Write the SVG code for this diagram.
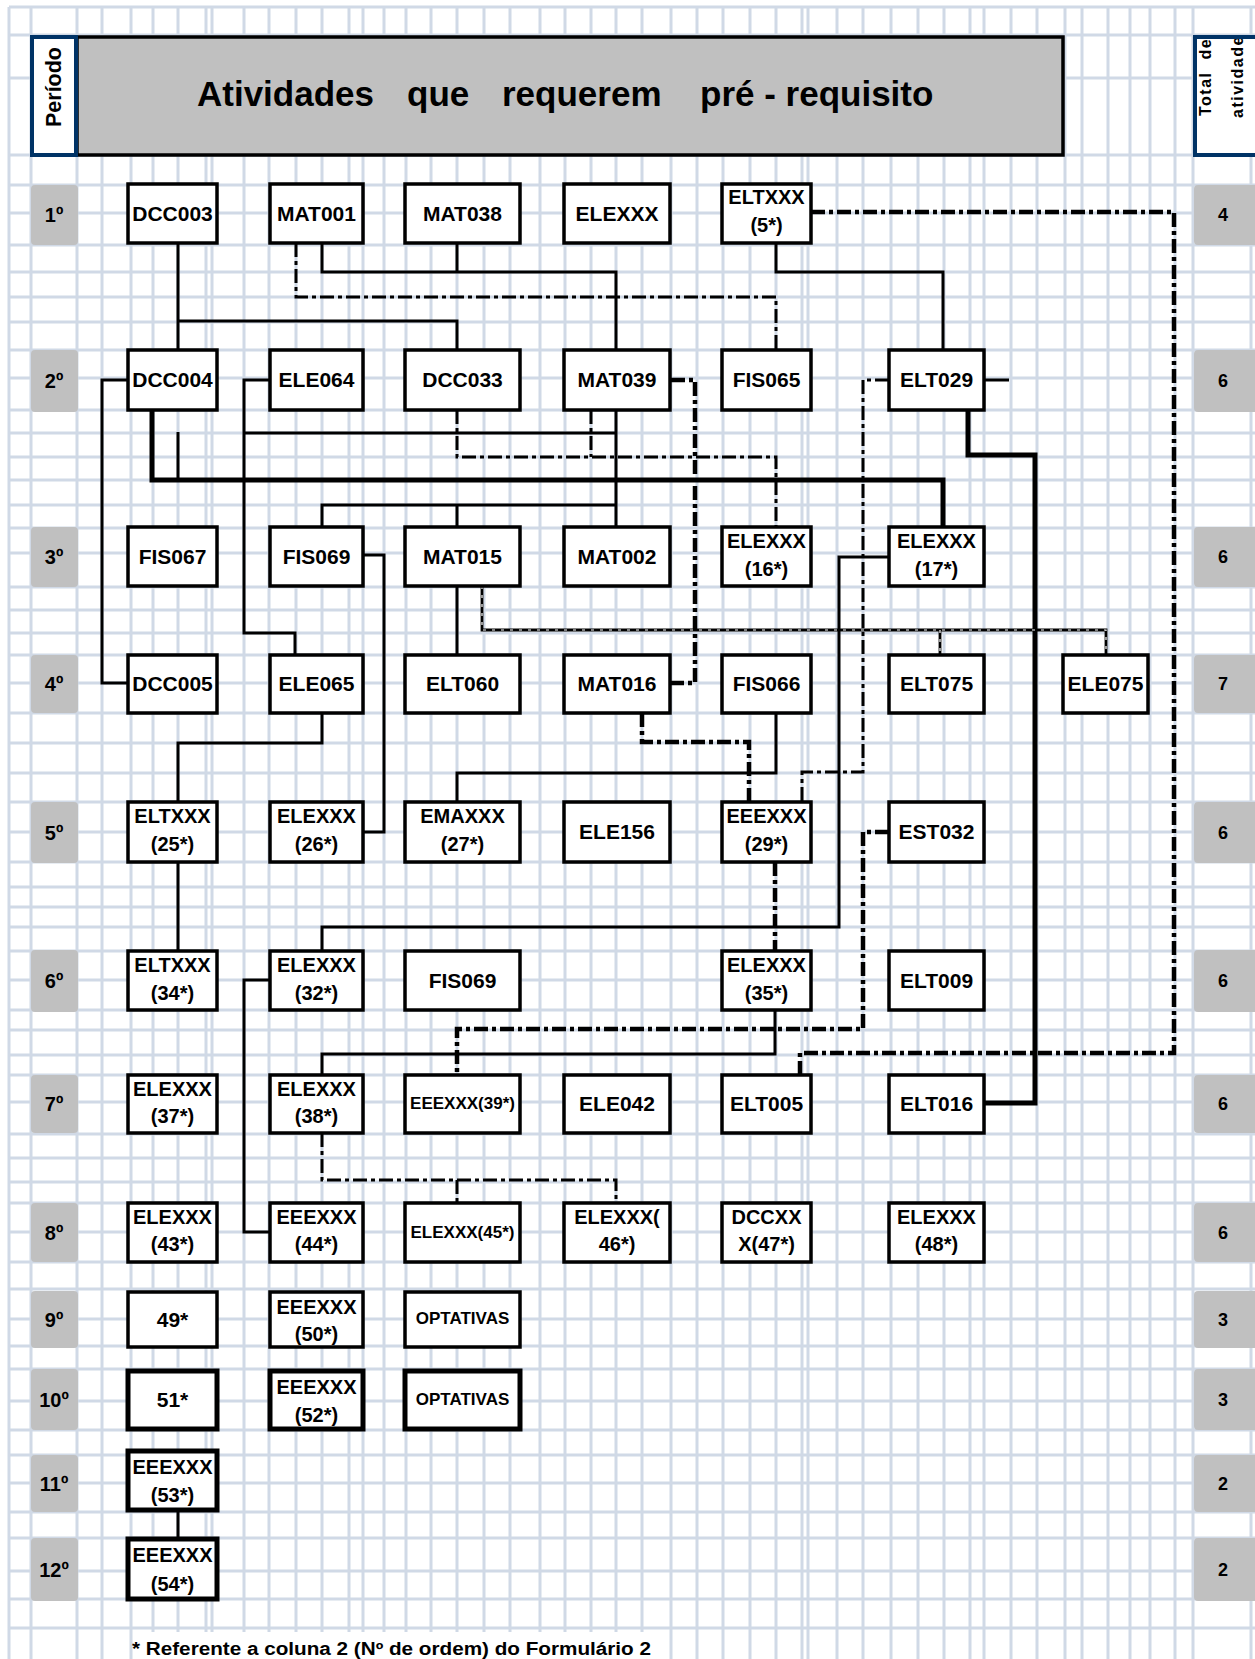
<svg xmlns="http://www.w3.org/2000/svg" width="1255" height="1659" viewBox="0 0 1255 1659">
<defs>
<style>
.g{stroke:#d0d9e6;stroke-width:3;fill:none}
.pb{fill:#c0c0c0}
.n rect{fill:#fff;stroke:#000;stroke-width:3.5}
.n.k rect{stroke-width:5}
text{font-family:"Liberation Sans",Arial,sans-serif;font-weight:bold;fill:#000}
.t{font-size:21px;text-anchor:middle}
.t2{font-size:20px;text-anchor:middle}
.ts{font-size:17px;text-anchor:middle}
.pl{font-size:20px;text-anchor:middle}
.tl{font-size:18px;text-anchor:middle}
.c path{fill:none;stroke:#000;stroke-linejoin:miter}
.c .s{stroke-width:3}
.c .st{stroke-width:5}
.c .d{stroke-width:3;stroke-dasharray:14 4 4 4}
.c .dt{stroke-width:4.5;stroke-dasharray:14 4 4 4}
.c .h{stroke-width:2.8}
.c .hw{stroke:#fff;stroke-width:1.2;stroke-dasharray:3 6}
</style>
<clipPath id="clipTot"><rect x="1196" y="39" width="60" height="115"/></clipPath>
</defs>
<rect width="1255" height="1659" fill="#fff"/>
<g id="grid" class="g">
<path d="M9,7V1659M31,7V1659M77,7V1659M102,7V1659M131,7V1659M153,7V1659M178,7V1659M206,7V1659M212,7V1659M244,7V1659M269,7V1659M296,7V1659M322,7V1659M349,7V1659M363,7V1659M384,7V1659M406,7V1659M431,7V1659M457,7V1659M484,7V1659M510,7V1659M540,7V1659M565,7V1659M591,7V1659M616,7V1659M642,7V1659M671,7V1659M697,7V1659M723,7V1659M750,7V1659M776,7V1659M802,7V1659M808,7V1659M837,7V1659M863,7V1659M891,7V1659M918,7V1659M944,7V1659M970,7V1659M984,7V1659M1011,7V1659M1037,7V1659M1065,7V1659M1082,7V1659M1108,7V1659M1130,7V1659M1150,7V1659M1175,7V1659M1193,7V1659M1251,7V1659"/>
<path d="M9,7H1255M9,35H1255M9,78H1255M9,155H1255M9,185H1255M9,213H1255M9,245H1255M9,272H1255M9,297H1255M9,322H1255M9,350H1255M9,378H1255M9,410H1255M9,433H1255M9,457H1255M9,480H1255M9,505H1255M9,528H1255M9,553H1255M9,587H1255M9,610H1255M9,633H1255M9,655H1255M9,683H1255M9,713H1255M9,743H1255M9,773H1255M9,802H1255M9,832H1255M9,862H1255M9,887H1255M9,907H1255M9,927H1255M9,951H1255M9,980H1255M9,1010H1255M9,1030H1255M9,1055H1255M9,1075H1255M9,1102H1255M9,1134H1255M9,1158H1255M9,1182H1255M9,1203H1255M9,1232H1255M9,1262H1255M9,1289H1255M9,1319H1255M9,1346H1255M9,1369H1255M9,1401H1255M9,1430H1255M9,1455H1255M9,1483H1255M9,1512H1255M9,1538H1255M9,1571H1255M9,1599H1255M9,1628H1255"/>
</g>

<g id="header">
<rect x="77" y="37" width="986" height="118" fill="#c0c0c0" stroke="#000" stroke-width="3.5"/>
<text font-size="35" y="106"><tspan x="197">Atividades</tspan><tspan x="407">que</tspan><tspan x="502">requerem</tspan><tspan x="700">pré - requisito</tspan></text>
<rect x="32" y="37" width="44" height="118" fill="#fff" stroke="#003366" stroke-width="4"/>
<text font-size="22" transform="translate(61,127) rotate(-90)" textLength="80" lengthAdjust="spacingAndGlyphs">Período</text>
<rect x="1195" y="37" width="70" height="118" fill="#fff" stroke="#003366" stroke-width="4"/>
<g clip-path="url(#clipTot)">
<text font-size="16" letter-spacing="1.5" style="white-space:pre" transform="translate(1211,116) rotate(-90)">Total  de</text>
<text font-size="16" letter-spacing="1.5" transform="translate(1243,118) rotate(-90)">atividades</text>
</g>
</g>

<g id="periods">
<rect class="pb" x="31" y="185" width="47" height="60" rx="4"/><text class="pl" x="54" y="222">1º</text>
<rect class="pb" x="31" y="350" width="47" height="62" rx="4"/><text class="pl" x="54" y="388">2º</text>
<rect class="pb" x="31" y="527" width="47" height="60" rx="4"/><text class="pl" x="54" y="564">3º</text>
<rect class="pb" x="31" y="655" width="47" height="58" rx="4"/><text class="pl" x="54" y="691">4º</text>
<rect class="pb" x="31" y="802" width="47" height="61" rx="4"/><text class="pl" x="54" y="840">5º</text>
<rect class="pb" x="31" y="950" width="47" height="62" rx="4"/><text class="pl" x="54" y="988">6º</text>
<rect class="pb" x="31" y="1075" width="47" height="58" rx="4"/><text class="pl" x="54" y="1111">7º</text>
<rect class="pb" x="31" y="1203" width="47" height="59" rx="4"/><text class="pl" x="54" y="1240">8º</text>
<rect class="pb" x="31" y="1291" width="47" height="57" rx="4"/><text class="pl" x="54" y="1327">9º</text>
<rect class="pb" x="31" y="1369" width="47" height="61" rx="4"/><text class="pl" x="54" y="1407">10º</text>
<rect class="pb" x="31" y="1455" width="47" height="57" rx="4"/><text class="pl" x="54" y="1491">11º</text>
<rect class="pb" x="31" y="1538" width="47" height="63" rx="4"/><text class="pl" x="54" y="1577">12º</text>
</g>

<g id="totals">
<rect class="pb" x="1194" y="185" width="70" height="60" rx="4"/><text class="tl" x="1223" y="221">4</text>
<rect class="pb" x="1194" y="350" width="70" height="62" rx="4"/><text class="tl" x="1223" y="387">6</text>
<rect class="pb" x="1194" y="527" width="70" height="60" rx="4"/><text class="tl" x="1223" y="563">6</text>
<rect class="pb" x="1194" y="655" width="70" height="58" rx="4"/><text class="tl" x="1223" y="690">7</text>
<rect class="pb" x="1194" y="802" width="70" height="61" rx="4"/><text class="tl" x="1223" y="839">6</text>
<rect class="pb" x="1194" y="950" width="70" height="62" rx="4"/><text class="tl" x="1223" y="987">6</text>
<rect class="pb" x="1194" y="1075" width="70" height="58" rx="4"/><text class="tl" x="1223" y="1110">6</text>
<rect class="pb" x="1194" y="1203" width="70" height="59" rx="4"/><text class="tl" x="1223" y="1239">6</text>
<rect class="pb" x="1194" y="1291" width="70" height="57" rx="4"/><text class="tl" x="1223" y="1326">3</text>
<rect class="pb" x="1194" y="1369" width="70" height="61" rx="4"/><text class="tl" x="1223" y="1406">3</text>
<rect class="pb" x="1194" y="1455" width="70" height="57" rx="4"/><text class="tl" x="1223" y="1490">2</text>
<rect class="pb" x="1194" y="1538" width="70" height="63" rx="4"/><text class="tl" x="1223" y="1576">2</text>
</g>

<g id="connectors" class="c">
<path class="s" d="M178,243V350M178,321H457V350"/>
<path class="s" d="M322,243V272H616V350M457,243V272"/>
<path class="s" d="M776,243V272H943V350"/>
<path class="s" d="M128,380H102V683H128"/>
<path class="s" d="M270,380H244V633H295V655"/>
<path class="s" d="M616,410V527M244,433H616M322,527V505H616M457,505V527"/>
<path class="s" d="M178,432V480"/>
<path class="s" d="M363,555H384V832H363"/>
<path class="s" d="M457,586V655"/>
<path class="s" d="M984,380H1009"/>
<path class="s" d="M889,557H839V927H322V951"/>
<path class="s" d="M776,713V773H457V802"/>
<path class="s" d="M322,713V743H178V802"/>
<path class="s" d="M178,862V951"/>
<path class="s" d="M270,980H244V1232H270"/>
<path class="s" d="M775,1010V1054H322V1075"/>
<path class="s" d="M178,1510V1539"/>
<path class="st" d="M152,410V480H943V527"/>
<path class="st" d="M968,410V455H1035V1103H984"/>
<path class="d" d="M296,243V297H776V350"/>
<path class="d" d="M457,410V457H776V527M591,410V457"/>
<path class="d" d="M889,380H863V772H802V802"/>
<path class="d" d="M322,1133V1180H616V1203M457,1180V1203"/>
<path class="dt" d="M671,380H695V683H671"/>
<path class="dt" d="M811,212H1174V1053H800V1075"/>
<path class="dt" d="M642,713V742H749V802"/>
<path class="dt" d="M775,862V951"/>
<path class="dt" d="M889,832H863V1029H457V1075"/>
<path class="h" d="M482,586V630H1106V655M940,630V655"/>
<path class="hw" d="M482,586V630H1106V655M940,630V655"/>
</g>

<g id="nodes">
<g id="n-DCC003" class="n"><rect x="128" y="184" width="89" height="59"/><text class="t" x="172.5" y="221">DCC003</text></g>
<g id="n-MAT001" class="n"><rect x="270" y="184" width="93" height="59"/><text class="t" x="316.5" y="221">MAT001</text></g>
<g id="n-MAT038" class="n"><rect x="405" y="184" width="115" height="59"/><text class="t" x="462.5" y="221">MAT038</text></g>
<g id="n-ELEXXX-1" class="n"><rect x="564" y="184" width="106" height="59"/><text class="t" x="617" y="221">ELEXXX</text></g>
<g id="n-ELTXXX-5" class="n"><rect x="722" y="184" width="89" height="59"/><text class="t2" x="766.5" y="204">ELTXXX</text><text class="t2" x="766.5" y="232">(5*)</text></g>

<g id="n-DCC004" class="n"><rect x="128" y="350" width="89" height="60"/><text class="t" x="172.5" y="387">DCC004</text></g>
<g id="n-ELE064" class="n"><rect x="270" y="350" width="93" height="60"/><text class="t" x="316.5" y="387">ELE064</text></g>
<g id="n-DCC033" class="n"><rect x="405" y="350" width="115" height="60"/><text class="t" x="462.5" y="387">DCC033</text></g>
<g id="n-MAT039" class="n"><rect x="564" y="350" width="106" height="60"/><text class="t" x="617" y="387">MAT039</text></g>
<g id="n-FIS065" class="n"><rect x="722" y="350" width="89" height="60"/><text class="t" x="766.5" y="387">FIS065</text></g>
<g id="n-ELT029" class="n"><rect x="889" y="350" width="95" height="60"/><text class="t" x="936.5" y="387">ELT029</text></g>

<g id="n-FIS067" class="n"><rect x="128" y="527" width="89" height="59"/><text class="t" x="172.5" y="564">FIS067</text></g>
<g id="n-FIS069-3" class="n"><rect x="270" y="527" width="93" height="59"/><text class="t" x="316.5" y="564">FIS069</text></g>
<g id="n-MAT015" class="n"><rect x="405" y="527" width="115" height="59"/><text class="t" x="462.5" y="564">MAT015</text></g>
<g id="n-MAT002" class="n"><rect x="564" y="527" width="106" height="59"/><text class="t" x="617" y="564">MAT002</text></g>
<g id="n-ELEXXX-16" class="n"><rect x="722" y="527" width="89" height="59"/><text class="t2" x="766.5" y="548">ELEXXX</text><text class="t2" x="766.5" y="576">(16*)</text></g>
<g id="n-ELEXXX-17" class="n"><rect x="889" y="527" width="95" height="59"/><text class="t2" x="936.5" y="548">ELEXXX</text><text class="t2" x="936.5" y="576">(17*)</text></g>

<g id="n-DCC005" class="n"><rect x="128" y="655" width="89" height="58"/><text class="t" x="172.5" y="691">DCC005</text></g>
<g id="n-ELE065" class="n"><rect x="270" y="655" width="93" height="58"/><text class="t" x="316.5" y="691">ELE065</text></g>
<g id="n-ELT060" class="n"><rect x="405" y="655" width="115" height="58"/><text class="t" x="462.5" y="691">ELT060</text></g>
<g id="n-MAT016" class="n"><rect x="564" y="655" width="106" height="58"/><text class="t" x="617" y="691">MAT016</text></g>
<g id="n-FIS066" class="n"><rect x="722" y="655" width="89" height="58"/><text class="t" x="766.5" y="691">FIS066</text></g>
<g id="n-ELT075" class="n"><rect x="889" y="655" width="95" height="58"/><text class="t" x="936.5" y="691">ELT075</text></g>
<g id="n-ELE075" class="n"><rect x="1063" y="655" width="85" height="58"/><text class="t" x="1105.5" y="691">ELE075</text></g>

<g id="n-ELTXXX-25" class="n"><rect x="128" y="802" width="89" height="60"/><text class="t2" x="172.5" y="823">ELTXXX</text><text class="t2" x="172.5" y="851">(25*)</text></g>
<g id="n-ELEXXX-26" class="n"><rect x="270" y="802" width="93" height="60"/><text class="t2" x="316.5" y="823">ELEXXX</text><text class="t2" x="316.5" y="851">(26*)</text></g>
<g id="n-EMAXXX-27" class="n"><rect x="405" y="802" width="115" height="60"/><text class="t2" x="462.5" y="823">EMAXXX</text><text class="t2" x="462.5" y="851">(27*)</text></g>
<g id="n-ELE156" class="n"><rect x="564" y="802" width="106" height="60"/><text class="t" x="617" y="839">ELE156</text></g>
<g id="n-EEEXXX-29" class="n"><rect x="722" y="802" width="89" height="60"/><text class="t2" x="766.5" y="823">EEEXXX</text><text class="t2" x="766.5" y="851">(29*)</text></g>
<g id="n-EST032" class="n"><rect x="889" y="802" width="95" height="60"/><text class="t" x="936.5" y="839">EST032</text></g>

<g id="n-ELTXXX-34" class="n"><rect x="128" y="951" width="89" height="59"/><text class="t2" x="172.5" y="972">ELTXXX</text><text class="t2" x="172.5" y="1000">(34*)</text></g>
<g id="n-ELEXXX-32" class="n"><rect x="270" y="951" width="93" height="59"/><text class="t2" x="316.5" y="972">ELEXXX</text><text class="t2" x="316.5" y="1000">(32*)</text></g>
<g id="n-FIS069-6" class="n"><rect x="405" y="951" width="115" height="59"/><text class="t" x="462.5" y="988">FIS069</text></g>
<g id="n-ELEXXX-35" class="n"><rect x="722" y="951" width="89" height="59"/><text class="t2" x="766.5" y="972">ELEXXX</text><text class="t2" x="766.5" y="1000">(35*)</text></g>
<g id="n-ELT009" class="n"><rect x="889" y="951" width="95" height="59"/><text class="t" x="936.5" y="988">ELT009</text></g>

<g id="n-ELEXXX-37" class="n"><rect x="128" y="1075" width="89" height="58"/><text class="t2" x="172.5" y="1096">ELEXXX</text><text class="t2" x="172.5" y="1123">(37*)</text></g>
<g id="n-ELEXXX-38" class="n"><rect x="270" y="1075" width="93" height="58"/><text class="t2" x="316.5" y="1096">ELEXXX</text><text class="t2" x="316.5" y="1123">(38*)</text></g>
<g id="n-EEEXXX-39" class="n"><rect x="405" y="1075" width="115" height="58"/><text class="ts" x="462.5" y="1109">EEEXXX(39*)</text></g>
<g id="n-ELE042" class="n"><rect x="564" y="1075" width="106" height="58"/><text class="t" x="617" y="1111">ELE042</text></g>
<g id="n-ELT005" class="n"><rect x="722" y="1075" width="89" height="58"/><text class="t" x="766.5" y="1111">ELT005</text></g>
<g id="n-ELT016" class="n"><rect x="889" y="1075" width="95" height="58"/><text class="t" x="936.5" y="1111">ELT016</text></g>

<g id="n-ELEXXX-43" class="n"><rect x="128" y="1203" width="89" height="59"/><text class="t2" x="172.5" y="1224">ELEXXX</text><text class="t2" x="172.5" y="1251">(43*)</text></g>
<g id="n-EEEXXX-44" class="n"><rect x="270" y="1203" width="93" height="59"/><text class="t2" x="316.5" y="1224">EEEXXX</text><text class="t2" x="316.5" y="1251">(44*)</text></g>
<g id="n-ELEXXX-45" class="n"><rect x="405" y="1203" width="115" height="59"/><text class="ts" x="462.5" y="1238">ELEXXX(45*)</text></g>
<g id="n-ELEXXX-46" class="n"><rect x="564" y="1203" width="106" height="59"/><text class="t2" x="617" y="1224">ELEXXX(</text><text class="t2" x="617" y="1251">46*)</text></g>
<g id="n-DCCXXX-47" class="n"><rect x="722" y="1203" width="89" height="59"/><text class="t2" x="766.5" y="1224">DCCXX</text><text class="t2" x="766.5" y="1251">X(47*)</text></g>
<g id="n-ELEXXX-48" class="n"><rect x="889" y="1203" width="95" height="59"/><text class="t2" x="936.5" y="1224">ELEXXX</text><text class="t2" x="936.5" y="1251">(48*)</text></g>

<g id="n-49" class="n"><rect x="128" y="1292" width="89" height="55"/><text class="t" x="172.5" y="1327">49*</text></g>
<g id="n-EEEXXX-50" class="n"><rect x="270" y="1292" width="93" height="55"/><text class="t2" x="316.5" y="1314">EEEXXX</text><text class="t2" x="316.5" y="1341">(50*)</text></g>
<g id="n-OPTATIVAS-9" class="n"><rect x="405" y="1292" width="115" height="55"/><text class="ts" x="462.5" y="1324">OPTATIVAS</text></g>

<g id="n-51" class="n k"><rect x="128" y="1371" width="89" height="58"/><text class="t" x="172.5" y="1407">51*</text></g>
<g id="n-EEEXXX-52" class="n k"><rect x="270" y="1371" width="93" height="58"/><text class="t2" x="316.5" y="1394">EEEXXX</text><text class="t2" x="316.5" y="1422">(52*)</text></g>
<g id="n-OPTATIVAS-10" class="n k"><rect x="405" y="1371" width="115" height="58"/><text class="ts" x="462.5" y="1405">OPTATIVAS</text></g>

<g id="n-EEEXXX-53" class="n k"><rect x="128" y="1451" width="89" height="59"/><text class="t2" x="172.5" y="1474">EEEXXX</text><text class="t2" x="172.5" y="1502">(53*)</text></g>
<g id="n-EEEXXX-54" class="n k"><rect x="128" y="1539" width="89" height="60"/><text class="t2" x="172.5" y="1562">EEEXXX</text><text class="t2" x="172.5" y="1591">(54*)</text></g>
</g>

<g id="footer">
<rect x="133" y="1632" width="525" height="27" fill="#fff"/>
<text x="132" y="1655" font-size="18" textLength="519" lengthAdjust="spacingAndGlyphs">* Referente a coluna 2 (Nº de ordem) do Formulário 2</text>
</g>
</svg>
